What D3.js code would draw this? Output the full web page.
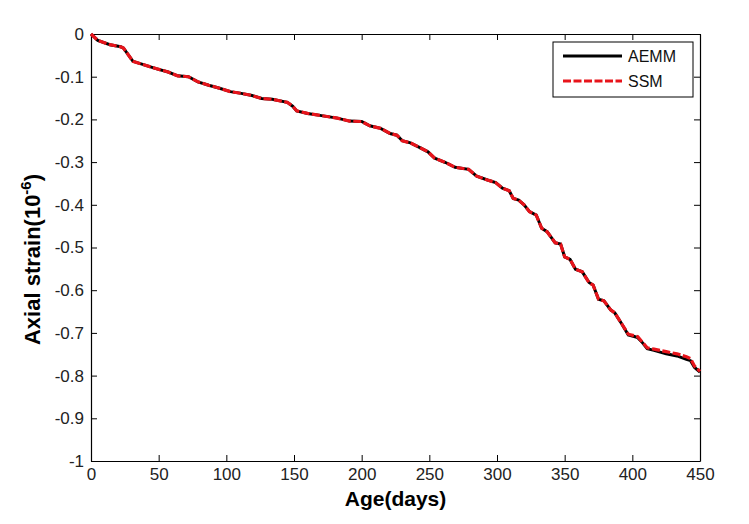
<!DOCTYPE html>
<html>
<head>
<meta charset="utf-8">
<script src="https://cdn.jsdelivr.net/npm/d3@7"></script>
<style>
  body { margin: 0; background: #fff; }
  text { font-family: "Liberation Sans", Arial, sans-serif; }
</style>
</head>
<body>
<div id="chart"></div>
<script>
// days
const days = [0, 5, 14, 22, 24, 31, 37, 48, 57, 64, 72, 79, 87, 95, 103, 111, 119, 126, 134, 145,
  149, 152, 160, 168, 182, 191, 200, 206, 214, 221, 226, 230, 236, 243, 249, 254, 262, 269, 279, 285,
  293, 299, 304, 309, 312, 316, 320, 324, 329, 333, 337, 343, 347, 350, 354, 358, 363, 368, 371, 375,
  379, 384, 387, 392, 397, 402, 404, 407, 411, 416, 425, 433, 440, 443, 446, 450];

const aemm = [0, -0.015, -0.025, -0.030, -0.033, -0.064, -0.070, -0.081, -0.089, -0.098, -0.100, -0.112, -0.120, -0.127, -0.135, -0.139, -0.144, -0.151, -0.153, -0.160,
  -0.169, -0.180, -0.186, -0.190, -0.197, -0.204, -0.205, -0.215, -0.221, -0.233, -0.237, -0.250, -0.255, -0.266, -0.276, -0.291, -0.301, -0.312, -0.317, -0.333,
  -0.342, -0.348, -0.361, -0.367, -0.385, -0.389, -0.400, -0.416, -0.424, -0.455, -0.463, -0.489, -0.492, -0.522, -0.528, -0.551, -0.557, -0.582, -0.588, -0.621,
  -0.625, -0.646, -0.653, -0.678, -0.705, -0.709, -0.711, -0.721, -0.737, -0.741, -0.749, -0.754, -0.762, -0.765, -0.781, -0.792];

const ssm = [0, -0.015, -0.025, -0.030, -0.033, -0.064, -0.070, -0.081, -0.089, -0.098, -0.100, -0.112, -0.120, -0.127, -0.135, -0.139, -0.144, -0.151, -0.153, -0.160,
  -0.169, -0.180, -0.186, -0.190, -0.197, -0.204, -0.205, -0.215, -0.221, -0.233, -0.237, -0.250, -0.255, -0.266, -0.276, -0.291, -0.301, -0.312, -0.317, -0.333,
  -0.342, -0.348, -0.361, -0.367, -0.385, -0.389, -0.400, -0.416, -0.424, -0.455, -0.463, -0.489, -0.492, -0.522, -0.528, -0.551, -0.557, -0.582, -0.588, -0.621,
  -0.625, -0.646, -0.653, -0.678, -0.703, -0.707, -0.709, -0.720, -0.735, -0.738, -0.744, -0.749, -0.756, -0.760, -0.778, -0.790];

const seriesNames = ["AEMM", "SSM"];
const xTicks = [0, 50, 100, 150, 200, 250, 300, 350, 400, 450];
const yTicks = [0, -0.1, -0.2, -0.3, -0.4, -0.5, -0.6, -0.7, -0.8, -0.9, -1];

const margin = { top: 34, right: 49, bottom: 63, left: 91 },
  width = 749 - margin.left - margin.right,
  height = 524 - margin.top - margin.bottom;

const svg = d3.select("#chart")
  .append("svg")
  .attr("width", 749)
  .attr("height", 524)
  .append("g")
  .attr("transform", "translate(" + margin.left + "," + margin.top + ")");

const x = d3.scaleLinear().domain([0, 450]).range([0, width]);
const y = d3.scaleLinear().domain([-1, 0]).range([height, 0]);

const fmt = (d) => (d === 0 ? "0" : String(+d.toFixed(1)));

// axes with inward ticks, like a matlab box
const styleAxis = (g) => {
  g.select(".domain").attr("stroke", "#000").attr("stroke-width", 1.2);
  g.selectAll(".tick line").attr("stroke", "#000");
  g.selectAll("text").attr("font-size", 17).attr("fill", "#222")
    .style("font-family", "'Liberation Sans', Arial, sans-serif");
};

svg.append("g")
  .attr("transform", "translate(0," + height + ")")
  .call(d3.axisBottom(x).tickValues(xTicks).tickFormat(fmt).tickSizeInner(-6).tickSizeOuter(0).tickPadding(7))
  .call(styleAxis);

svg.append("g")
  .call(d3.axisLeft(y).tickValues(yTicks).tickFormat(fmt).tickSizeInner(-6).tickSizeOuter(0).tickPadding(7))
  .call(styleAxis);

svg.append("g")
  .call(d3.axisTop(x).tickValues(xTicks).tickFormat("").tickSizeInner(-6).tickSizeOuter(0))
  .call(styleAxis);

svg.append("g")
  .attr("transform", "translate(" + width + ",0)")
  .call(d3.axisRight(y).tickValues(yTicks).tickFormat("").tickSizeInner(-6).tickSizeOuter(0))
  .call(styleAxis);

const line = d3.line().x((d) => x(d[0])).y((d) => y(d[1]));

svg.append("path")
  .datum(days.map((d, i) => [d, aemm[i]]))
  .attr("fill", "none")
  .attr("stroke", "#000")
  .attr("stroke-width", 3)
  .attr("d", line);

svg.append("path")
  .datum(days.map((d, i) => [d, ssm[i]]))
  .attr("fill", "none")
  .attr("stroke", "#e8141b")
  .attr("stroke-width", 3.2)
  .attr("stroke-dasharray", "8,2.5")
  .attr("d", line);

// legend
const lg = svg.append("g").attr("transform", "translate(" + (553 - margin.left) + "," + (42 - margin.top) + ")");
lg.append("rect").attr("width", 140).attr("height", 55)
  .attr("fill", "#fff").attr("stroke", "#000").attr("stroke-width", 1);
seriesNames.forEach((name, i) => {
  lg.append("line")
    .attr("x1", 10).attr("x2", 69)
    .attr("y1", 14 + i * 25).attr("y2", 14 + i * 25)
    .attr("stroke", i === 0 ? "#000" : "#e8141b")
    .attr("stroke-width", 3.2)
    .attr("stroke-dasharray", i === 0 ? null : "8,2.5");
  lg.append("text")
    .attr("x", 75).attr("y", 14 + i * 25)
    .attr("dy", "0.36em")
    .attr("font-size", 16)
    .attr("fill", "#111")
    .text(name);
});

// axis titles
svg.append("text")
  .attr("x", x(225))
  .attr("y", height + 45)
  .attr("text-anchor", "middle")
  .attr("font-size", 21)
  .attr("font-weight", "bold")
  .text("Age(days)");

const yl = svg.append("text")
  .attr("transform", "translate(-51," + (height / 2 + 12) + ") rotate(-90)")
  .attr("text-anchor", "middle")
  .attr("font-size", 22)
  .attr("font-weight", "bold");
yl.append("tspan").text("Axial strain(10");
yl.append("tspan").attr("dy", -9).attr("font-size", 15).text("-6");
yl.append("tspan").attr("dy", 9).text(")");
</script>
</body>
</html>
